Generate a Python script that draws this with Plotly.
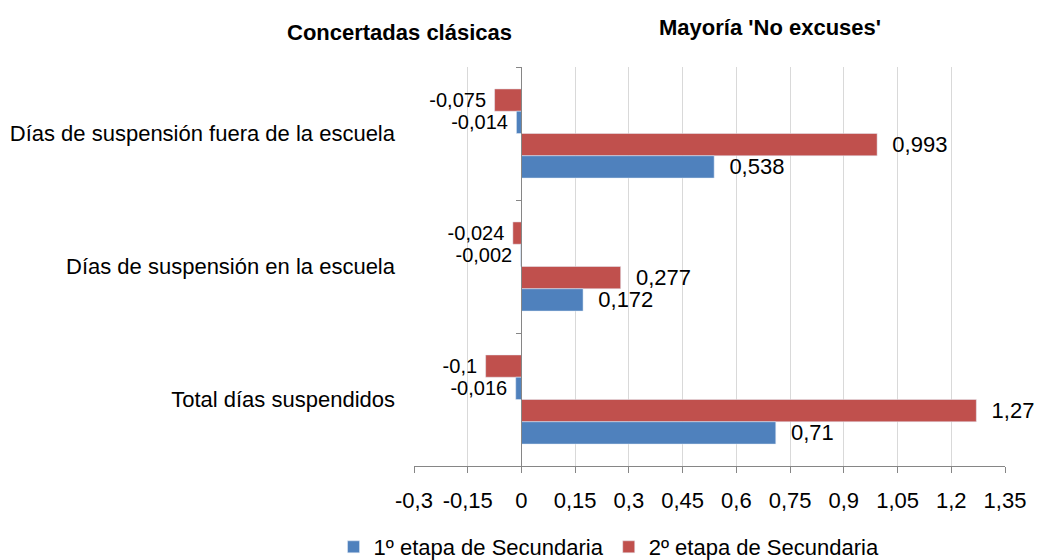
import plotly.graph_objects as go

categories = [
    "Días de suspensión fuera de la escuela",
    "Días de suspensión en la escuela",
    "Total días suspendidos",
]
concertadas_1 = [-0.014, -0.002, -0.016]
concertadas_2 = [-0.075, -0.024, -0.1]
noexcuses_1 = [0.538, 0.172, 0.71]
noexcuses_2 = [0.993, 0.277, 1.27]
series_names = ["1º etapa de Secundaria", "2º etapa de Secundaria"]
group_titles = ["Concertadas clásicas", "Mayoría 'No excuses'"]
tick_values = [-0.3, -0.15, 0, 0.15, 0.3, 0.45, 0.6, 0.75, 0.9, 1.05, 1.2, 1.35]
tick_labels = ["-0,3", "-0,15", "0", "0,15", "0,3", "0,45", "0,6", "0,75", "0,9", "1,05", "1,2", "1,35"]

BLUE = "#4F81BD"
RED = "#C0504D"
FONT = "Liberation Sans, Arial, sans-serif"
FS = 22
FS_NEG = 20


def fmt(v):
    return f"{v:g}".replace(".", ",")


def neg_txt(vals):
    return [fmt(v) + "\u00a0" for v in vals]


def pos_txt(vals):
    return ["\u00a0\u00a0" + fmt(v) for v in vals]


common = dict(orientation="h", textposition="outside", cliponaxis=False, constraintext="none")
neg_font = dict(family=FONT, size=FS_NEG, color="#000000")
pos_font = dict(family=FONT, size=FS, color="#000000")

fig = go.Figure()
fig.add_trace(go.Bar(y=categories, x=concertadas_2, marker_color=RED,
                     text=neg_txt(concertadas_2), textfont=neg_font, showlegend=False,
                     name=series_names[1], **common))
fig.add_trace(go.Bar(y=categories, x=concertadas_1, marker_color=BLUE,
                     text=neg_txt(concertadas_1), textfont=neg_font, showlegend=False,
                     name=series_names[0], **common))
fig.add_trace(go.Bar(y=categories, x=noexcuses_2, marker_color=RED,
                     text=pos_txt(noexcuses_2), textfont=pos_font, legendrank=2,
                     name=series_names[1], **common))
fig.add_trace(go.Bar(y=categories, x=noexcuses_1, marker_color=BLUE,
                     text=pos_txt(noexcuses_1), textfont=pos_font, legendrank=1,
                     name=series_names[0], **common))
# helper trace to carry the vertical axis drawn at x = 0
fig.add_trace(go.Scatter(y=categories, x=[0] * len(categories), yaxis="y2", mode="markers",
                         marker=dict(opacity=0), showlegend=False, hoverinfo="skip"))

x_min, x_max = tick_values[0], tick_values[-1]
zero_pos = (0 - x_min) / (x_max - x_min)

fig.update_layout(
    width=1050, height=560,
    paper_bgcolor="white", plot_bgcolor="white",
    margin=dict(l=406, r=53, t=59, b=102, autoexpand=False),
    barmode="group", bargap=0.33, bargroupgap=0,
    font=dict(family=FONT, size=FS, color="#000000"),
    xaxis=dict(range=[x_min, x_max], tickvals=tick_values, ticktext=tick_labels,
               showgrid=True, gridcolor="#D9D9D9", gridwidth=1,
               showline=True, linecolor="#868686", linewidth=1,
               ticks="outside", ticklen=6, tickcolor="#868686",
               zeroline=False, ticklabelstandoff=9, automargin=False,
               tickfont=dict(family=FONT, size=FS)),
    yaxis=dict(autorange="reversed", showgrid=False, showline=False, zeroline=False,
               ticks="", ticklabelstandoff=18, automargin=False,
               tickfont=dict(family=FONT, size=FS)),
    yaxis2=dict(overlaying="y", matches="y", anchor="free", position=zero_pos, side="left",
                showline=True, linecolor="#868686", linewidth=1, showgrid=False,
                ticks="outside", ticklen=5, tickcolor="#868686", tickson="boundaries",
                showticklabels=False, zeroline=False, automargin=False),
    legend=dict(orientation="h", x=0.33, xanchor="center", y=-0.203, yanchor="middle",
                font=dict(family=FONT, size=FS), itemwidth=30, traceorder="normal"),
    annotations=[
        dict(text=f"<b>{group_titles[0]}</b>", xref="paper", yref="paper",
             x=-0.024, y=1.0, yshift=35, xanchor="center", yanchor="middle",
             showarrow=False, font=dict(family=FONT, size=FS)),
        dict(text=f"<b>{group_titles[1]}</b>", xref="paper", yref="paper",
             x=0.602, y=1.0, yshift=40, xanchor="center", yanchor="middle",
             showarrow=False, font=dict(family=FONT, size=FS)),
    ],
)

fig.write_html("out.html")
